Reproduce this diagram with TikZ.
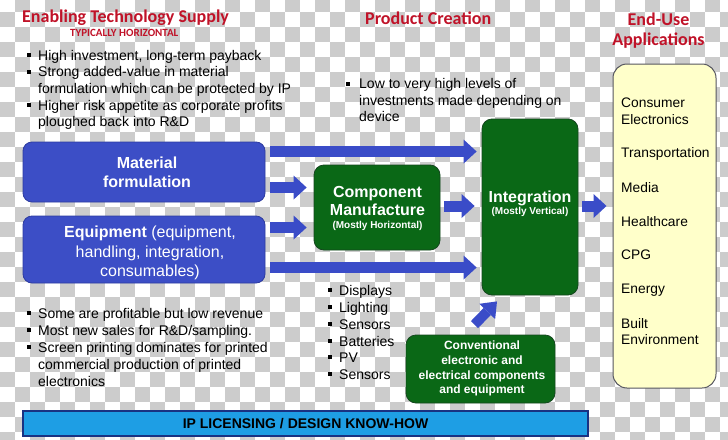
\documentclass[tikz,border=0pt]{standalone}
\usepackage{fontspec}
\setmainfont{Liberation Sans}
\newfontfamily\calfont{Carlito}
\usetikzlibrary{arrows.meta,calc}
\definecolor{titlered}{RGB}{192,18,40}
\definecolor{boxblue}{RGB}{60,78,198}
\definecolor{boxblueb}{RGB}{45,60,160}
\definecolor{arrblue}{RGB}{58,76,200}
\definecolor{boxgreen}{RGB}{10,104,22}
\definecolor{boxgreenb}{RGB}{20,70,30}
\definecolor{paleyel}{RGB}{255,255,202}
\definecolor{yelb}{RGB}{85,85,95}
\definecolor{ipblue}{RGB}{30,158,228}
\definecolor{ipblueb}{RGB}{25,50,130}
\definecolor{checkgray}{RGB}{204,204,204}
\newcommand{\fs}[2]{\fontsize{#1}{#2}\selectfont}
\newcommand{\bitem}[5]{\fill (#2,#4-6.7) rectangle ++(4,4); \node[bodytxt,anchor=base west] (#1) at (#3,#4) {#5};}
\newcommand{\citem}[4]{\node[bodytxt,anchor=base west] (#1) at (#2,#3) {#4};}
\begin{document}
\begin{tikzpicture}[x=1pt,y=-1pt,
  bodytxt/.style={inner sep=0pt, font=\fs{14}{16.7}, text=black},
  eutxt/.style={inner sep=0pt, font=\fs{13.8}{16}, text=black, anchor=base west},
  titletxt/.style={inner sep=0pt, font=\calfont\bfseries\fs{18}{20}, text=titlered},
  bluebox/.style={draw=boxblueb, fill=boxblue, rounded corners=9pt, line width=0.8pt, inner sep=0pt},
  greenbox/.style={draw=boxgreenb, fill=boxgreen, rounded corners=10pt, line width=0.8pt, inner sep=0pt},
  boxtxt/.style={inner sep=0pt, text=white, align=center},
  gline/.style={inner sep=0pt, text=white, anchor=base},
  fat/.style={draw=arrblue, line width=11pt, -{Triangle[length=13pt,width=24pt,line width=0pt]}},
  fatd/.style={draw=arrblue, line width=10pt, -{Triangle[length=14pt,width=22pt,line width=0pt]}},
]
% background (transparency checkerboard)
\begin{scope}
\clip (0,0) rectangle (728,439);
\fill[white] (0,0) rectangle (728,439);
\foreach \c in {0,...,48}{\foreach \r in {-2,0,...,28}{\fill[checkgray] ({\c*15},{12+(\r+mod(\c,2))*15}) rectangle ++(15,15);}}
\end{scope}
\useasboundingbox (0,0) rectangle (728,439);

% titles
\node[titletxt, anchor=base west] (ttl1) at (22,23) {Enabling Technology Supply};
\node[titletxt, font=\calfont\bfseries\fs{11}{13}, anchor=base west] (ttl1b) at (70,36) {TYPICALLY HORIZONTAL};
\node[titletxt, anchor=base west] (ttl2) at (365,24) {Product Creation};
\node[titletxt, anchor=base] (ttl3) at (658.5,25) {End-Use};
\node[titletxt, anchor=base] (ttl3b) at (658.5,45) {Applications};

% top-left bullets
\bitem{ta1}{27}{38}{60}{High investment, long-term payback}
\bitem{ta2}{27}{38}{76.7}{Strong added-value in material}
\citem{ta3}{38}{93.4}{formulation which can be protected by IP}
\bitem{ta4}{27}{38}{110}{Higher risk appetite as corporate profits}
\citem{ta5}{38}{126.7}{ploughed back into R\&D}

% middle-top bullets
\bitem{tb1}{346}{359}{88.3}{Low to very high levels of}
\citem{tb2}{359}{105}{investments made depending on}
\citem{tb3}{359}{121.5}{device}

% bottom-left bullets
\bitem{tc1}{27}{38}{318}{Some are profitable but low revenue}
\bitem{tc2}{27}{38}{335}{Most new sales for R\&D/sampling.}
\bitem{tc3}{27}{38}{352}{Screen printing dominates for printed}
\citem{tc4}{38}{369}{commercial production of printed}
\citem{tc5}{38}{386}{electronics}

% device list
\bitem{td1}{328}{339}{295}{Displays}
\bitem{td2}{328}{339}{312}{Lighting}
\bitem{td3}{328}{339}{329}{Sensors}
\bitem{td4}{328}{339}{346}{Batteries}
\bitem{td5}{328}{339}{362}{PV}
\bitem{td6}{328}{339}{379}{Sensors}

% boxes
\node[bluebox, minimum width=242pt, minimum height=60pt] (mat) at (144,172) {};
\node[boxtxt, font=\bfseries\fs{16}{19}] (matT) at (147,172.2) {Material\\formulation};
\node[bluebox, minimum width=242pt, minimum height=67pt] (equip) at (144,249.5) {};
\node[boxtxt, font=\fs{16}{19.5}] (eqT) at (150,253) {\textbf{Equipment} (equipment,\\handling, integration,\\consumables)};

\node[greenbox, minimum width=126pt, minimum height=85pt] (comp) at (377,207.5) {};
\node[gline, font=\bfseries\fs{16}{18}] (compA) at (377.5,197) {Component};
\node[gline, font=\bfseries\fs{16}{18}] (compB) at (377.5,215) {Manufacture};
\node[gline, font=\bfseries\fs{10}{12}] (compC) at (377.5,228) {(Mostly Horizontal)};

\node[greenbox, minimum width=96pt, minimum height=176pt] (integ) at (530,207) {};
\node[gline, font=\bfseries\fs{16}{18}] (intA) at (530,202) {Integration};
\node[gline, font=\bfseries\fs{10}{12}] (intB) at (530,214) {(Mostly Vertical)};

\node[greenbox, minimum width=149pt, minimum height=68pt] (conv) at (480.5,369) {};
\node[gline, font=\bfseries\fs{12}{14}] (convA) at (482,349) {Conventional};
\node[gline, font=\bfseries\fs{12}{14}] (convB) at (482,364) {electronic and};
\node[gline, font=\bfseries\fs{12}{14}] (convC) at (482,379) {electrical components};
\node[gline, font=\bfseries\fs{12}{14}] (convD) at (482,393) {and equipment};

\node[draw=yelb, fill=paleyel, rounded corners=14pt, line width=1pt, minimum width=103pt, minimum height=324pt, inner sep=0pt] (enduse) at (664.5,226) {};
\node[eutxt] (eu1) at (621,107) {Consumer};
\node[eutxt] (eu1b) at (621,124) {Electronics};
\node[eutxt] (eu2) at (621,157) {Transportation};
\node[eutxt] (eu3) at (621,192) {Media};
\node[eutxt] (eu4) at (621,226) {Healthcare};
\node[eutxt] (eu5) at (621,259) {CPG};
\node[eutxt] (eu6) at (621,293) {Energy};
\node[eutxt] (eu7) at (621,328) {Built};
\node[eutxt] (eu7b) at (621,344) {Environment};

\node[draw=ipblueb, fill=ipblue, line width=1.2pt, minimum width=565pt, minimum height=25pt, inner sep=0pt, font=\bfseries\fs{14}{16}] (ip) at (305.5,423.5) {IP LICENSING / DESIGN KNOW-HOW};

% arrows
\coordinate (rowA) at (0,151.5);
\coordinate (rowB) at (0,187.5);
\coordinate (rowC) at (0,227.5);
\coordinate (rowD) at (0,267.5);
\coordinate (rowE) at (0,206);
\draw[fat] ([xshift=5pt]mat.east |- rowA) -- ([xshift=-5pt]integ.west |- rowA);
\draw[fat] ([xshift=5pt]mat.east |- rowB) -- ([xshift=-7pt]comp.west |- rowB);
\draw[fat] ([xshift=5pt]equip.east |- rowC) -- ([xshift=-7pt]comp.west |- rowC);
\draw[fat] ([xshift=5pt]equip.east |- rowD) -- ([xshift=-5pt]integ.west |- rowD);
\draw[fat] ([xshift=4pt]comp.east |- rowE) -- ([xshift=-7pt]integ.west |- rowE);
\draw[fat] ([xshift=4pt]integ.east |- rowE) -- ([xshift=-6pt]enduse.west |- rowE);
\draw[fatd] ($(conv.north)+(-6,-10)$) -- ($(integ.south)+(-33,6)$);
\end{tikzpicture}
\end{document}
